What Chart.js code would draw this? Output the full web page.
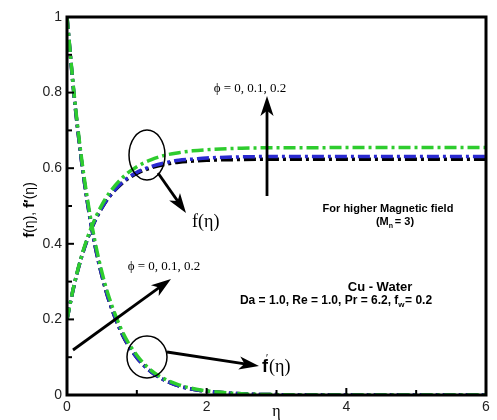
<!DOCTYPE html>
<html>
<head>
<meta charset="utf-8">
<script src="https://cdn.jsdelivr.net/npm/chart.js@4/dist/chart.umd.min.js"></script>
<style>
  html, body { margin: 0; padding: 0; background: #fff; }
  #wrap { width: 497px; height: 420px; }
</style>
</head>
<body>
<div id="wrap"><canvas id="chart" width="497" height="420"></canvas></div>
<script>
// eta values and curves
const eta = [0, 0.1, 0.2, 0.3, 0.4, 0.5, 0.6, 0.8, 1.0, 1.2, 1.4, 1.6, 1.8, 2.0, 2.5, 3, 3.5, 4, 5, 6];

const fBlack = [0.2, 0.289, 0.360, 0.416, 0.460, 0.495, 0.523, 0.562, 0.586, 0.601, 0.610, 0.616, 0.619, 0.621, 0.623, 0.624, 0.624, 0.624, 0.624, 0.624];
const fBlue = [0.2, 0.289, 0.360, 0.416, 0.461, 0.496, 0.524, 0.564, 0.589, 0.604, 0.614, 0.621, 0.624, 0.627, 0.630, 0.631, 0.631, 0.631, 0.631, 0.631];
const fGreen = [0.2, 0.290, 0.362, 0.420, 0.466, 0.503, 0.533, 0.576, 0.604, 0.622, 0.634, 0.641, 0.646, 0.649, 0.653, 0.654, 0.654, 0.655, 0.655, 0.655];

const fpBlack = [1, 0.794, 0.630, 0.500, 0.396, 0.315, 0.250, 0.157, 0.099, 0.062, 0.039, 0.024, 0.015, 0.010, 0.003, 0.001, 0, 0, 0, 0];
const fpBlue = [1, 0.795, 0.631, 0.501, 0.397, 0.316, 0.251, 0.158, 0.099, 0.062, 0.039, 0.024, 0.015, 0.010, 0.003, 0.001, 0, 0, 0, 0];
const fpGreen = [1, 0.800, 0.638, 0.510, 0.407, 0.325, 0.260, 0.165, 0.105, 0.066, 0.042, 0.027, 0.017, 0.011, 0.003, 0.001, 0, 0, 0, 0];

const xTicks = [0, 2, 4, 6];
const yTicks = [0, 0.2, 0.4, 0.6, 0.8, 1];

const BLACK = '#000000';
const BLUE = '#2a2ad0';
const GREEN = '#2ecc2e';

function series(values, color) {
    return {
        data: eta.map((x, i) => ({ x: x, y: values[i] })),
        borderColor: color,
        borderWidth: 3.5,
        borderDash: [12, 4, 3, 4],
        pointRadius: 0,
        fill: false,
        cubicInterpolationMode: 'monotone'
    };
}

function arrow(ctx, x1, y1, x2, y2, head) {
    const a = Math.atan2(y2 - y1, x2 - x1);
    ctx.beginPath();
    ctx.moveTo(x1, y1);
    ctx.lineTo(x2 - Math.cos(a) * head * 0.6, y2 - Math.sin(a) * head * 0.6);
    ctx.stroke();
    ctx.beginPath();
    ctx.moveTo(x2, y2);
    ctx.lineTo(x2 - head * Math.cos(a - 0.32), y2 - head * Math.sin(a - 0.32));
    ctx.lineTo(x2 - head * 0.7 * Math.cos(a), y2 - head * 0.7 * Math.sin(a));
    ctx.lineTo(x2 - head * Math.cos(a + 0.32), y2 - head * Math.sin(a + 0.32));
    ctx.closePath();
    ctx.fill();
}

const decorations = {
    id: 'decorations',
    afterDraw(chart) {
        const ctx = chart.ctx;
        const xs = chart.scales.x, ys = chart.scales.y;
        const area = chart.chartArea;
        const px = v => xs.getPixelForValue(v);
        const py = v => ys.getPixelForValue(v);
        ctx.save();

        // inner ticks
        ctx.strokeStyle = BLACK;
        ctx.lineWidth = 2;
        for (let v = 0; v <= 6; v++) {
            const len = v % 2 === 0 ? 7 : 5;
            ctx.beginPath();
            ctx.moveTo(px(v), area.bottom);
            ctx.lineTo(px(v), area.bottom - len);
            ctx.stroke();
        }
        for (let i = 0; i <= 10; i++) {
            const len = i % 2 === 0 ? 7 : 5;
            ctx.beginPath();
            ctx.moveTo(area.left, py(i / 10));
            ctx.lineTo(area.left + len, py(i / 10));
            ctx.stroke();
        }

        // frame
        ctx.lineWidth = 3;
        ctx.strokeRect(area.left, area.top, area.right - area.left, area.bottom - area.top);

        // axis titles
        ctx.fillStyle = BLACK;
        ctx.textBaseline = 'middle';
        ctx.textAlign = 'center';
        ctx.font = '16px "Liberation Serif", serif';
        ctx.fillText('\u03b7', px(3), 412);

        ctx.save();
        ctx.translate(30, 210);
        ctx.rotate(-Math.PI / 2);
        ctx.textAlign = 'left';
        let parts = [
            ['f', 'bold 15px "Liberation Sans", Arial'],
            ['(\u03b7), ', '14px "Liberation Sans", Arial'],
            ['f\u2032', 'bold 15px "Liberation Sans", Arial'],
            ['(\u03b7)', '14px "Liberation Sans", Arial']
        ];
        let total = 0;
        parts.forEach(p => { ctx.font = p[1]; total += ctx.measureText(p[0]).width; });
        let cx = -total / 2;
        parts.forEach(p => { ctx.font = p[1]; ctx.fillText(p[0], cx, 0); cx += ctx.measureText(p[0]).width; });
        ctx.restore();

        // phi labels
        ctx.font = '13px "Liberation Serif", serif';
        ctx.textAlign = 'center';
        ctx.fillText('\u03d5 = 0, 0.1, 0.2', 250, 89);
        ctx.fillText('\u03d5 = 0, 0.1, 0.2', 164, 267);

        // arrows
        ctx.lineWidth = 2.8;
        arrow(ctx, 267, 196, 267, 96, 21);
        arrow(ctx, 73, 350, 171, 279, 21);
        arrow(ctx, 158, 173, 186, 213, 21);
        arrow(ctx, 167, 352, 259, 366, 21);

        // ellipses
        ctx.lineWidth = 1.5;
        ctx.beginPath();
        ctx.ellipse(147, 155, 18, 25, 0, 0, Math.PI * 2);
        ctx.stroke();
        ctx.beginPath();
        ctx.ellipse(147, 357, 20, 21, 0, 0, Math.PI * 2);
        ctx.stroke();

        // curve names
        ctx.textAlign = 'left';
        ctx.font = '18px "Liberation Serif", serif';
        ctx.fillText('f(\u03b7)', 192, 222);
        ctx.font = 'bold 18px "Liberation Sans", Arial';
        ctx.fillText('f', 262, 367);
        ctx.font = '10px "Liberation Sans", Arial';
        ctx.fillText('\u2032', 266, 359);
        ctx.font = '18px "Liberation Serif", serif';
        ctx.fillText('(\u03b7)', 269, 367);

        // parameter notes
        ctx.textAlign = 'center';
        ctx.font = 'bold 11px "Liberation Sans", Arial';
        ctx.fillText('For higher Magnetic field', 388, 209);
        ctx.fillText('(M  = 3)', 395, 222);
        ctx.font = 'bold 7px "Liberation Sans", Arial';
        ctx.fillText('n', 391, 226);

        ctx.font = 'bold 13px "Liberation Sans", Arial';
        ctx.fillText('Cu - Water', 380, 287);
        ctx.font = 'bold 12px "Liberation Sans", Arial';
        const line = 'Da = 1.0, Re = 1.0, Pr = 6.2, f  = 0.2';
        ctx.fillText(line, 336, 301);
        const w = ctx.measureText(line).width;
        const pre = ctx.measureText('Da = 1.0, Re = 1.0, Pr = 6.2, f').width;
        ctx.font = 'bold 8px "Liberation Sans", Arial';
        ctx.textAlign = 'left';
        ctx.fillText('w', 336 - w / 2 + pre, 305);

        ctx.restore();
    }
};

// Chart.js paints the first dataset last, so green goes first to sit on top
new Chart(document.getElementById('chart'), {
    type: 'line',
    data: {
        datasets: [
            series(fGreen, GREEN),
            series(fpGreen, GREEN),
            series(fBlue, BLUE),
            series(fpBlue, BLUE),
            series(fBlack, BLACK),
            series(fpBlack, BLACK)
        ]
    },
    options: {
        responsive: false,
        animation: false,
        layout: { padding: { left: 0, right: 11, top: 17, bottom: 0 } },
        plugins: { legend: { display: false }, tooltip: { enabled: false } },
        scales: {
            x: {
                type: 'linear',
                min: 0,
                max: 6,
                afterFit: s => { s.height = 25; },
                afterBuildTicks: s => { s.ticks = xTicks.map(v => ({ value: v })); },
                grid: { display: false, drawTicks: false },
                border: { display: false },
                ticks: { padding: 4, color: '#222', font: { family: '"Liberation Sans", Arial', size: 14 } }
            },
            y: {
                min: 0,
                max: 1,
                afterFit: s => { s.width = 67; },
                afterBuildTicks: s => { s.ticks = yTicks.map(v => ({ value: v })); },
                grid: { display: false, drawTicks: false },
                border: { display: false },
                ticks: {
                    padding: 5,
                    color: '#222',
                    font: { family: '"Liberation Sans", Arial', size: 14 },
                    callback: v => String(v)
                }
            }
        }
    },
    plugins: [decorations]
});
</script>
</body>
</html>
